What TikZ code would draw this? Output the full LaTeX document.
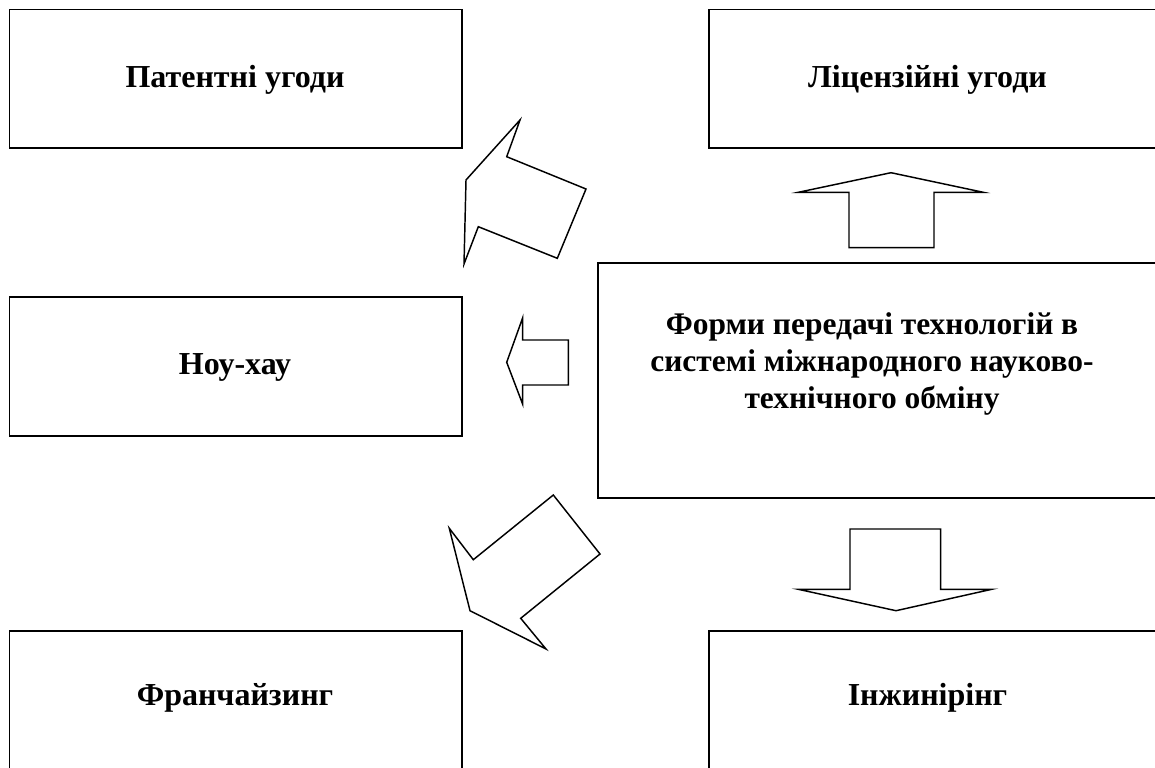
\documentclass[tikz,border=0pt]{standalone}
\usepackage{fontspec}
\setmainfont{Liberation Serif}
\begin{document}
\begin{tikzpicture}[x=0.75pt,y=-0.75pt,
  box/.style={draw=black,line width=1.3pt,fill=white,inner sep=0pt},
  lbl/.style={font=\bfseries\fontsize{24pt}{28pt}\selectfont,align=center},
  barrow/.style={draw=black,line width=1.1pt,line join=miter,fill=white}]
\useasboundingbox (0,0) rectangle (1155,767);
\clip (0,0) rectangle (1155,767);
% boxes
\node[box,minimum width=339.4pt,minimum height=103.9pt] (pat) at (235.75,78.75) {};
\node[box,minimum width=338.6pt,minimum height=103.9pt] (lic) at (935,78.75) {};
\node[box,minimum width=339.4pt,minimum height=104.2pt] (know) at (235.75,366.5) {};
\node[box,minimum width=423pt,minimum height=176.5pt] (main) at (880,380.4) {};
\node[box,minimum width=339.4pt,minimum height=105pt] (fran) at (235.75,701) {};
\node[box,minimum width=338.6pt,minimum height=105pt] (eng) at (935,701) {};
% labels
\node[lbl] (tpat) at (235,80) {Патентні угоди};
\node[lbl] (tlic) at (927.5,80) {Ліцензійні угоди};
\node[lbl] (tknow) at (235,367) {Ноу-хау};
\node[lbl,font=\bfseries\fontsize{23.6pt}{27.75pt}\selectfont] (tmain) at (872,364) {Форми передачі технологій в\\системі міжнародного науково-\\технічного обміну};
\node[lbl] (tfran) at (235,698) {Франчайзинг};
\node[lbl] (teng) at (927.5,698) {Інжинірінг};
% block arrows
\draw[barrow] (520,120) -- (506.7,156.7) -- (586,189) -- (557.3,258.3) -- (478.3,226.7) -- (464,264) -- (466,180) -- cycle;
\draw[barrow] (891,172.7) -- (983.3,192.3) -- (934,192.3) -- (934,247.7) -- (849,247.7) -- (849,192.3) -- (798.3,192.3) -- cycle;
\draw[barrow] (506.7,362.3) -- (522.7,317.7) -- (522.7,340) -- (568.3,340) -- (568.3,385) -- (522.7,385) -- (522.7,404.3) -- cycle;
\draw[barrow] (470,610.7) -- (449.3,528.3) -- (473.3,559.7) -- (553.3,495) -- (600,554) -- (520.7,618.3) -- (546,649) -- cycle;
\draw[barrow] (896,610.7) -- (798.3,589.3) -- (850,589.3) -- (850,529) -- (940.7,529) -- (940.7,589.3) -- (991.7,589.3) -- cycle;
\end{tikzpicture}
\end{document}
